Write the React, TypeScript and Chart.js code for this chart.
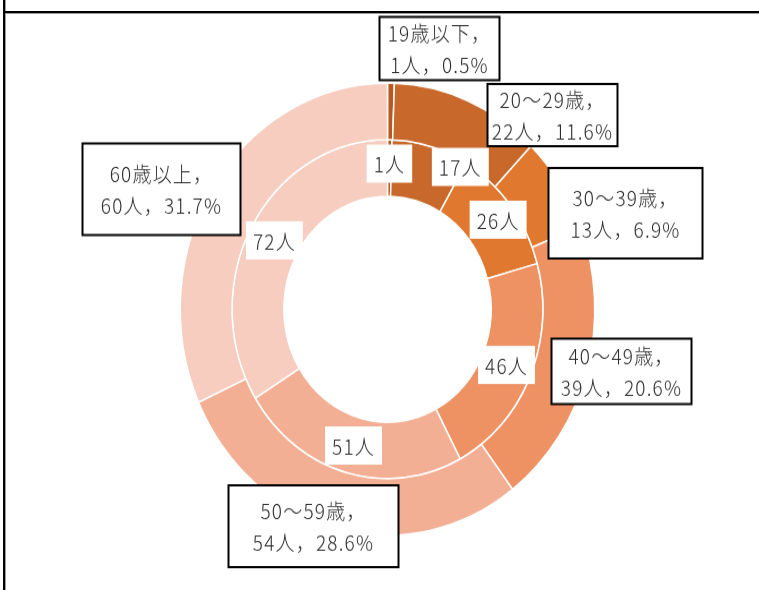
import React, { useEffect, useRef } from "react";
import { Chart, registerables } from "chart.js";

Chart.register(...registerables);

const categories = ["19歳以下", "20〜29歳", "30〜39歳", "40〜49歳", "50〜59歳", "60歳以上"];
const outerValues = [1, 22, 13, 39, 54, 60];
const innerValues = [1, 17, 26, 46, 51, 72];
const unit = "人";
const sliceColors = ["#B9581F", "#C8692B", "#E0782F", "#EE9163", "#F2AF94", "#F6CDBF"];

// layout of the callout boxes (offset of box centre from the chart centre, box size)
const outerBoxLayout = [
  { dx: 52, dy: -239, w: 120, h: 58 },
  { dx: 165, dy: -178, w: 130, h: 57 },
  { dx: 238, dy: -88, w: 154, h: 83 },
  { dx: 234, dy: 57, w: 140, h: 60 },
  { dx: -74, dy: 199, w: 170, h: 75 },
  { dx: -226, dy: -110, w: 158, h: 84 },
];
const innerLabelShift = [
  [0, -4],
  [37, -6],
  [8, -3],
  [0, 0],
  [0, 0],
  [0, 0],
];

const FONT = '300 19px "Noto Sans CJK JP", "Noto Sans CJK SC", sans-serif';
const TEXT_COLOR = "#2b2b2b";

const labelPlugin = {
  id: "boxLabels",
  afterDatasetsDraw(chart: any) {
    const ctx = chart.ctx as CanvasRenderingContext2D;
    ctx.save();
    ctx.font = FONT;
    (ctx as any).letterSpacing = "1.2px";
    ctx.textAlign = "center";
    ctx.textBaseline = "middle";

    const innerMeta = chart.getDatasetMeta(1);
    innerMeta.data.forEach((arc: any, i: number) => {
      const p = arc.getProps(["x", "y", "startAngle", "endAngle", "innerRadius", "outerRadius"], true);
      const a = (p.startAngle + p.endAngle) / 2;
      const r = (p.innerRadius + p.outerRadius) / 2;
      const cx = p.x + Math.cos(a) * r + innerLabelShift[i][0];
      const cy = p.y + Math.sin(a) * r + innerLabelShift[i][1];
      const text = innerValues[i] + unit;
      const w = ctx.measureText(text).width + 14;
      const h = 35;
      ctx.fillStyle = "#ffffff";
      ctx.fillRect(cx - w / 2, cy - h / 2, w, h);
      ctx.fillStyle = TEXT_COLOR;
      ctx.fillText(text, cx, cy + 1);
    });

    const outerMeta = chart.getDatasetMeta(0);
    const total = outerValues.reduce((s, v) => s + v, 0);
    outerMeta.data.forEach((arc: any, i: number) => {
      const p = arc.getProps(["x", "y"], true);
      const L = outerBoxLayout[i];
      const cx = p.x + L.dx;
      const cy = p.y + L.dy;
      ctx.fillStyle = "#ffffff";
      ctx.fillRect(cx - L.w / 2, cy - L.h / 2, L.w, L.h);
      ctx.strokeStyle = "#000000";
      ctx.lineWidth = 2;
      ctx.strokeRect(cx - L.w / 2, cy - L.h / 2, L.w, L.h);
      const pct = ((outerValues[i] / total) * 100).toFixed(1) + "%";
      const line1 = categories[i] + "，";
      const line2 = outerValues[i] + unit + "，" + pct;
      ctx.fillStyle = TEXT_COLOR;
      ctx.fillText(line1, cx, cy - 14);
      ctx.fillText(line2, cx, cy + 15);
    });
    ctx.restore();
  },
};

const CANVAS_W = 759;
const CANVAS_H = 541;
const STRETCH = 590 / CANVAS_H;

export default function App() {
  const ref = useRef<HTMLCanvasElement | null>(null);

  useEffect(() => {
    if (!ref.current) return;
    const chart = new Chart(ref.current, {
      type: "doughnut",
      data: {
        labels: categories,
        datasets: [
          {
            label: "outer",
            data: outerValues,
            backgroundColor: sliceColors,
            borderColor: "#ffffff",
            borderWidth: 1.5,
          },
          {
            label: "inner",
            data: innerValues,
            backgroundColor: sliceColors,
            borderColor: "#ffffff",
            borderWidth: 1.5,
          },
        ],
      },
      options: {
        responsive: false,
        animation: false,
        cutout: "50%",
        layout: { padding: { left: 16, right: 0, top: 75.5, bottom: 49.5 } },
        plugins: {
          legend: { display: false },
          tooltip: { enabled: false },
          title: { display: false },
        },
      },
      plugins: [labelPlugin],
    });
    return () => chart.destroy();
  }, []);

  return (
    <div
      style={{
        position: "absolute",
        left: 0,
        top: 0,
        width: 759,
        height: 590,
        overflow: "hidden",
        background: "#ffffff",
      }}
    >
      <canvas
        ref={ref}
        width={CANVAS_W}
        height={CANVAS_H}
        style={{
          position: "absolute",
          left: 0,
          top: 0,
          display: "block",
          transform: `scaleY(${STRETCH})`,
          transformOrigin: "0 0",
        }}
      />
      <div style={{ position: "absolute", left: 3, top: 0, width: 2, height: 590, background: "#000" }} />
      <div style={{ position: "absolute", left: 5, top: 0, width: 1, height: 590, background: "#9a9a9a" }} />
      <div style={{ position: "absolute", left: 5, top: 11, width: 754, height: 2, background: "#000" }} />
      <div style={{ position: "absolute", left: 6, top: 13, width: 753, height: 1, background: "#9a9a9a" }} />
    </div>
  );
}
